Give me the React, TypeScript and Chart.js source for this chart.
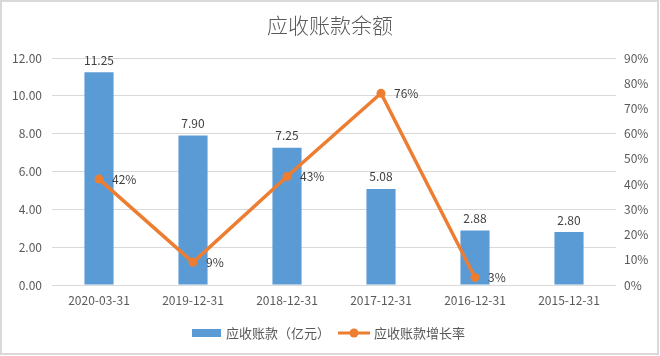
import React, { useEffect, useRef } from "react";
import { Chart, registerables } from "chart.js";

Chart.register(...registerables);

const title = "应收账款余额";
const categories = ["2020-03-31", "2019-12-31", "2018-12-31", "2017-12-31", "2016-12-31", "2015-12-31"];
const receivables = [11.25, 7.9, 7.25, 5.08, 2.88, 2.8];
const growthRates: (number | null)[] = [42, 9, 43, 76, 3, null];
const barLabel = "应收账款（亿元）";
const lineLabel = "应收账款增长率";

const FONT = '"Noto Sans CJK SC", "Noto Sans", sans-serif';
const BLUE = "#5B9BD5";
const ORANGE = "#ED7D31";
const TEXT = "#595959";
const GRID = "#d9d9d9";

const decorPlugin = {
  id: "decor",
  beforeDraw(chart: any) {
    const ctx = chart.ctx;
    ctx.save();
    ctx.fillStyle = "#ffffff";
    ctx.fillRect(0, 0, chart.width, chart.height);
    ctx.strokeStyle = GRID;
    ctx.lineWidth = 2;
    ctx.strokeRect(1, 1, chart.width - 3, chart.height - 3);
    ctx.restore();
  },
  afterDatasetsDraw(chart: any) {
    const ctx = chart.ctx;
    ctx.save();
    ctx.font = `12px ${FONT}`;
    ctx.fillStyle = "#404040";
    const barMeta = chart.getDatasetMeta(0);
    barMeta.data.forEach((el: any, i: number) => {
      const v = receivables[i];
      ctx.textAlign = "center";
      ctx.textBaseline = "bottom";
      ctx.fillText(v.toFixed(2), el.x, el.y - 6);
    });
    const lineMeta = chart.getDatasetMeta(1);
    lineMeta.data.forEach((el: any, i: number) => {
      const v = growthRates[i];
      if (v === null || v === undefined) return;
      ctx.textAlign = "left";
      ctx.textBaseline = "middle";
      ctx.fillText(`${v}%`, el.x + 13, el.y);
    });
    ctx.restore();
  },
  afterDraw(chart: any) {
    const ctx = chart.ctx;
    ctx.save();
    // title
    ctx.font = `300 21px ${FONT}`;
    ctx.fillStyle = TEXT;
    ctx.textAlign = "center";
    ctx.textBaseline = "middle";
    ctx.fillText(title, 330, 25);
    // legend
    const ly = 333;
    ctx.fillStyle = BLUE;
    ctx.fillRect(192, ly - 4, 29, 8);
    ctx.font = `13px ${FONT}`;
    ctx.fillStyle = TEXT;
    ctx.textAlign = "left";
    ctx.fillText(barLabel, 226, ly);
    ctx.strokeStyle = ORANGE;
    ctx.lineWidth = 3;
    ctx.beginPath();
    ctx.moveTo(338, ly);
    ctx.lineTo(370, ly);
    ctx.stroke();
    ctx.fillStyle = ORANGE;
    ctx.beginPath();
    ctx.arc(354, ly, 4.5, 0, Math.PI * 2);
    ctx.fill();
    ctx.fillStyle = TEXT;
    ctx.fillText(lineLabel, 374, ly);
    ctx.restore();
  },
};

export default function App() {
  const ref = useRef<HTMLCanvasElement>(null);
  useEffect(() => {
    document.body.style.margin = "0";
    if (!ref.current) return;
    const chart = new Chart(ref.current, {
      type: "bar",
      data: {
        labels: categories,
        datasets: [
          {
            type: "bar",
            label: barLabel,
            data: receivables,
            backgroundColor: BLUE,
            yAxisID: "y",
            categoryPercentage: 1,
            barPercentage: 0.31,
            order: 1,
          },
          {
            type: "line",
            label: lineLabel,
            data: growthRates,
            borderColor: ORANGE,
            backgroundColor: ORANGE,
            borderWidth: 3.5,
            pointRadius: 4.5,
            pointBackgroundColor: ORANGE,
            pointBorderWidth: 0,
            yAxisID: "y1",
            spanGaps: false,
            tension: 0,
            order: 0,
          } as any,
        ],
      },
      options: {
        responsive: false,
        animation: false,
        layout: { padding: { top: 58, bottom: 41, left: 0, right: 0 } },
        plugins: {
          legend: { display: false },
          title: { display: false },
          tooltip: { enabled: false },
        },
        scales: {
          x: {
            grid: { display: false, drawTicks: false },
            border: { display: false },
            ticks: { color: TEXT, font: { family: FONT, size: 12 }, padding: 8, maxRotation: 0 },
            afterFit(s: any) {
              s.height = 30;
            },
          },
          y: {
            position: "left",
            min: 0,
            max: 12,
            grid: { color: GRID, lineWidth: 1, drawTicks: false },
            border: { display: false },
            ticks: {
              stepSize: 2,
              color: TEXT,
              font: { family: FONT, size: 12 },
              padding: 10,
              callback: (v: any) => Number(v).toFixed(2),
            },
            afterFit(s: any) {
              s.width = 52;
            },
          },
          y1: {
            position: "right",
            min: 0,
            max: 90,
            grid: { display: false, drawTicks: false },
            border: { display: false },
            ticks: {
              stepSize: 10,
              color: TEXT,
              font: { family: FONT, size: 12 },
              padding: 8,
              callback: (v: any) => `${v}%`,
            },
            afterFit(s: any) {
              s.width = 44;
            },
          },
        },
      },
      plugins: [decorPlugin],
    });
    return () => chart.destroy();
  }, []);
  return (
    <div style={{ width: 660, height: 356 }}>
      <canvas ref={ref} width={660} height={356} style={{ display: "block" }} />
    </div>
  );
}
